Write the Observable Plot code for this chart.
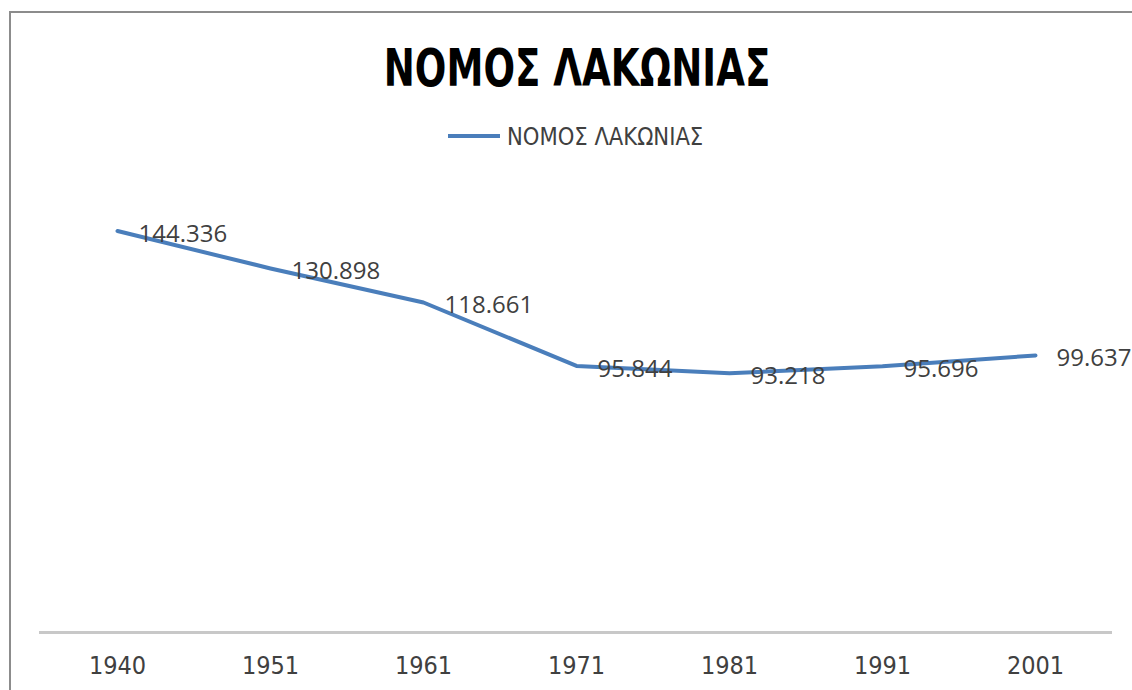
<!DOCTYPE html>
<html>
<head>
<meta charset="utf-8">
<script src="https://cdn.jsdelivr.net/npm/d3@7"></script>
<script src="https://cdn.jsdelivr.net/npm/@observablehq/plot@0.6"></script>
<style>
  html, body { margin: 0; padding: 0; background: #fff; width: 1132px; height: 690px; overflow: hidden; }
  #wrap { position: relative; width: 1132px; height: 690px; }
  #frame { position: absolute; left: 9px; top: 11px; width: 1200px; height: 800px; border-left: 2px solid #8c8c8c; border-top: 2px solid #8c8c8c; box-sizing: border-box; }
  #title { position: absolute; left: 577px; top: 43px; transform: translateX(-50%) scaleX(0.81); font-family: "DejaVu Sans Condensed", "Liberation Sans", sans-serif; font-weight: bold; font-size: 51px; line-height: 51px; color: #000; white-space: nowrap; }
  #legline { position: absolute; left: 448px; top: 134px; width: 52px; height: 4px; background: #4a7ebb; }
  #legtext { position: absolute; left: 507px; top: 124px; transform-origin: left center; transform: scaleX(0.94); font-family: "DejaVu Sans Condensed", "Liberation Sans", sans-serif; font-size: 25px; line-height: 25px; color: #404040; white-space: nowrap; }
  #chart { position: absolute; left: 0; top: 170px; }
</style>
</head>
<body>
<div id="wrap">
  <div id="frame"></div>
  <div id="title">ΝΟΜΟΣ ΛΑΚΩΝΙΑΣ</div>
  <div id="legline"></div>
  <div id="legtext">ΝΟΜΟΣ ΛΑΚΩΝΙΑΣ</div>
  <div id="chart"></div>
</div>
<script>
const years = ["1940", "1951", "1961", "1971", "1981", "1991", "2001"];
const population = [144336, 130898, 118661, 95844, 93218, 95696, 99637];
const seriesName = "ΝΟΜΟΣ ΛΑΚΩΝΙΑΣ";

const data = years.map((y, i) => ({year: y, value: population[i]}));
const fmt = v => d3.format(",")(v).replace(/,/g, ".");

const chart = Plot.plot({
  width: 1132,
  height: 520,
  marginLeft: 39,
  marginRight: 20,
  marginTop: 17,
  marginBottom: 58,
  style: {background: "transparent", color: "#404040", overflow: "visible"},
  x: {type: "point", domain: years, padding: 0.5, label: null},
  y: {domain: [0, 160000], axis: null},
  marks: [
    Plot.ruleY([0], {stroke: "#c8c8c8", strokeWidth: 3}),
    Plot.axisX({tickSize: 0, tickPadding: 24, fontSize: 25, fontFamily: "DejaVu Sans Condensed, sans-serif", label: null}),
    Plot.line(data, {x: "year", y: "value", stroke: "#4a7ebb", strokeWidth: 4, strokeLinejoin: "round", strokeLinecap: "round"}),
    Plot.text(data, {x: "year", y: "value", text: d => fmt(d.value), dx: 21, dy: 3, textAnchor: "start", fontSize: 24, fontFamily: "Open Sans, sans-serif", fill: "#404040"})
  ]
});
document.getElementById("chart").appendChild(chart);
</script>
</body>
</html>
